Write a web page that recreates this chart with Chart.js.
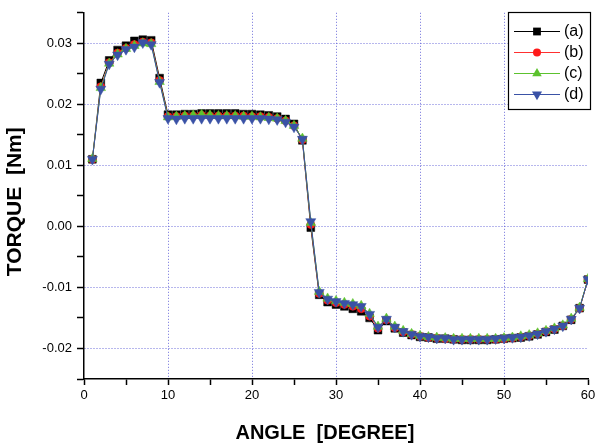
<!DOCTYPE html>
<html>
<head>
<meta charset="utf-8">
<script src="https://cdn.jsdelivr.net/npm/chart.js@4/dist/chart.umd.min.js"></script>
<style>
html,body{margin:0;padding:0;background:#fff;}
canvas{display:block;}
</style>
</head>
<body>
<canvas id="c" width="609" height="445"></canvas>
<script>
const angles = [1,2,3,4,5,6,7,8,9,10,11,12,13,14,15,16,17,18,19,20,21,22,23,24,25,26,27,28,29,30,31,32,33,34,35,36,37,38,39,40,41,42,43,44,45,46,47,48,49,50,51,52,53,54,55,56,57,58,59,60];

const seriesA = [0.0110,0.0235,0.0272,0.0289,0.0296,0.0304,0.0306,0.0305,0.0243,0.0183,
0.0183,0.0184,0.0184,0.0185,0.0185,0.0185,0.0185,0.0185,0.0184,0.0184,
0.0183,0.0182,0.0180,0.0176,0.0168,0.0141,-0.0002,-0.0112,-0.0124,-0.0128,
-0.0131,-0.0135,-0.0139,-0.0150,-0.0170,-0.0155,-0.0167,-0.0174,-0.0178,-0.0181,
-0.0182,-0.0184,-0.0184,-0.0185,-0.0186,-0.0186,-0.0186,-0.0186,-0.0185,-0.0184,
-0.0183,-0.0182,-0.0180,-0.0177,-0.0173,-0.0169,-0.0163,-0.0153,-0.0134,-0.0087];

const seriesB = [0.0110,0.0229,0.0268,0.0284,0.0292,0.0298,0.0302,0.0301,0.0239,0.0180,
0.0180,0.0181,0.0181,0.0182,0.0181,0.0181,0.0181,0.0181,0.0181,0.0180,
0.0180,0.0179,0.0177,0.0173,0.0165,0.0142,0.0003,-0.0110,-0.0121,-0.0125,
-0.0128,-0.0131,-0.0135,-0.0147,-0.0167,-0.0153,-0.0166,-0.0173,-0.0177,-0.0180,
-0.0182,-0.0183,-0.0184,-0.0185,-0.0185,-0.0185,-0.0185,-0.0185,-0.0185,-0.0184,
-0.0183,-0.0181,-0.0179,-0.0176,-0.0172,-0.0168,-0.0163,-0.0152,-0.0134,-0.0087];

const seriesC = [0.0111,0.0227,0.0267,0.0282,0.0291,0.0296,0.0300,0.0299,0.0237,0.0179,
0.0180,0.0181,0.0182,0.0183,0.0182,0.0181,0.0181,0.0181,0.0180,0.0180,
0.0179,0.0178,0.0177,0.0173,0.0165,0.0144,0.0006,-0.0107,-0.0118,-0.0122,
-0.0125,-0.0127,-0.0130,-0.0143,-0.0164,-0.0151,-0.0164,-0.0171,-0.0176,-0.0179,
-0.0181,-0.0182,-0.0183,-0.0184,-0.0184,-0.0184,-0.0184,-0.0184,-0.0184,-0.0183,
-0.0182,-0.0180,-0.0178,-0.0175,-0.0171,-0.0167,-0.0162,-0.0151,-0.0133,-0.0086];

const seriesD = [0.0110,0.0225,0.0266,0.0281,0.0290,0.0294,0.0301,0.0298,0.0236,0.0177,
0.0176,0.0177,0.0177,0.0177,0.0177,0.0177,0.0177,0.0177,0.0177,0.0177,
0.0177,0.0176,0.0175,0.0171,0.0163,0.0143,0.0008,-0.0108,-0.0119,-0.0123,
-0.0126,-0.0128,-0.0131,-0.0144,-0.0165,-0.0152,-0.0165,-0.0172,-0.0177,-0.0180,
-0.0181,-0.0183,-0.0183,-0.0185,-0.0185,-0.0185,-0.0185,-0.0185,-0.0184,-0.0183,
-0.0182,-0.0181,-0.0179,-0.0176,-0.0172,-0.0168,-0.0163,-0.0152,-0.0134,-0.0087];

const seriesNames = ['(a)','(b)','(c)','(d)'];
const xTitle = 'ANGLE  [DEGREE]';
const yTitle = 'TORQUE  [Nm]';

const FONT = "'Liberation Sans', Arial, sans-serif";
const styles = [
  {color:'#000000', line:'#000000', point:'rect', rot:0, r:5.5},
  {color:'#ff1a1a', line:'#ff3030', point:'circle', rot:0, r:4},
  {color:'#5cc22e', line:'#5cc22e', point:'triangle', rot:0, r:5.5},
  {color:'#3a52a6', line:'#3a52a6', point:'triangle', rot:180, r:5.8}
];
const seriesData = [seriesA, seriesB, seriesC, seriesD];

const datasets = seriesData.map((s, i) => ({
  label: seriesNames[i],
  data: angles.map((a, j) => ({x: a, y: s[j]})),
  borderColor: styles[i].line,
  backgroundColor: styles[i].color,
  pointBackgroundColor: styles[i].color,
  pointBorderColor: styles[i].color,
  pointBorderWidth: 0.5,
  borderWidth: 1,
  pointStyle: styles[i].point,
  pointRotation: styles[i].rot,
  pointRadius: styles[i].r,
  tension: 0,
  order: 3 - i
}));

function drawMarker(ctx, st, x, y) {
  ctx.save();
  ctx.fillStyle = st.color;
  ctx.beginPath();
  const r = st.r;
  if (st.point === 'rect') {
    const h = r * Math.SQRT1_2;
    ctx.rect(x - h, y - h, 2*h, 2*h);
  } else if (st.point === 'circle') {
    ctx.arc(x, y, r, 0, Math.PI*2);
  } else {
    const s = st.rot ? -1 : 1;
    ctx.moveTo(x, y - s*r);
    ctx.lineTo(x + r*Math.sin(2*Math.PI/3), y + s*r*0.5);
    ctx.lineTo(x - r*Math.sin(2*Math.PI/3), y + s*r*0.5);
    ctx.closePath();
  }
  ctx.fill();
  ctx.restore();
}

const legendPlugin = {
  id: 'boxLegend',
  afterDraw(chart) {
    const ctx = chart.ctx;
    ctx.save();
    ctx.fillStyle = '#fff';
    ctx.fillRect(508, 12, 83, 98);
    ctx.strokeStyle = '#000';
    ctx.lineWidth = 1.2;
    ctx.strokeRect(508.5, 12.5, 82, 97);
    const rows = [31, 52, 73, 94];
    chart.data.datasets.forEach((ds, i) => {
      const y = rows[i];
      const st = styles[i];
      ctx.strokeStyle = st.line;
      ctx.lineWidth = 1;
      ctx.beginPath();
      ctx.moveTo(514, y + 0.5);
      ctx.lineTo(560, y + 0.5);
      ctx.stroke();
      drawMarker(ctx, st, 537, y + 0.5);
      ctx.fillStyle = '#000';
      ctx.font = '16px ' + FONT;
      ctx.textBaseline = 'middle';
      ctx.textAlign = 'left';
      ctx.fillText(ds.label, 564, y + 1);
    });
    ctx.restore();
  }
};

const gridBlue = 'rgba(95,95,215,0.9)';

new Chart(document.getElementById('c'), {
  type: 'line',
  data: { datasets },
  plugins: [legendPlugin],
  options: {
    responsive: false,
    animation: false,
    events: [],
    layout: { padding: { left: 0, right: 21, top: 8, bottom: 0 } },
    plugins: { legend: { display: false }, tooltip: { enabled: false } },
    scales: {
      x: {
        type: 'linear',
        min: 0, max: 60,
        afterFit(scale) { scale.height = 66; },
        ticks: {
          stepSize: 5,
          color: '#000',
          font: { family: FONT, size: 13 },
          padding: 3,
          maxRotation: 0,
          autoSkip: false,
          callback: (v) => (Math.round(v) % 10 === 0 ? String(Math.round(v)) : '')
        },
        grid: {
          color: (c) => {
            const v = c.tick ? Math.round(c.tick.value) : -1;
            return (v % 10 === 0 && v > 0 && v < 60) ? gridBlue : 'rgba(0,0,0,0)';
          },
          lineWidth: 1,
          tickColor: '#000',
          tickWidth: 1.5,
          tickLength: 6,
          tickBorderDash: [],
          drawTicks: true
        },
        border: { display: true, color: '#000', width: 1.5, dash: [1, 2] },
        title: {
          display: true,
          text: xTitle + '    ',
          color: '#000',
          font: { family: FONT, size: 20, weight: 'bold' },
          padding: { top: 0, bottom: 0 }
        }
      },
      y: {
        type: 'linear',
        min: -0.025, max: 0.035,
        afterFit(scale) { scale.width = 84; },
        ticks: {
          stepSize: 0.005,
          color: '#000',
          font: { family: FONT, size: 13 },
          padding: 5,
          autoSkip: false,
          callback: (v) => {
            const m = Math.round(v * 1000);
            if (m % 10 !== 0) return '';
            return (Math.round(v * 100) / 100).toFixed(2);
          }
        },
        grid: {
          color: (c) => {
            const m = c.tick ? Math.round(c.tick.value * 1000) : 1;
            return (m % 10 === 0 && m > -25) ? gridBlue : 'rgba(0,0,0,0)';
          },
          lineWidth: 1,
          tickColor: '#000',
          tickWidth: 1.5,
          tickLength: 7,
          tickBorderDash: [],
          drawTicks: true
        },
        border: { display: true, color: '#000', width: 1.5, dash: [1, 2] },
        title: {
          display: true,
          text: yTitle + '  ',
          color: '#000',
          font: { family: FONT, size: 21, weight: 'bold' },
          padding: { top: 3, bottom: 0 }
        }
      }
    }
  }
});
</script>
</body>
</html>
